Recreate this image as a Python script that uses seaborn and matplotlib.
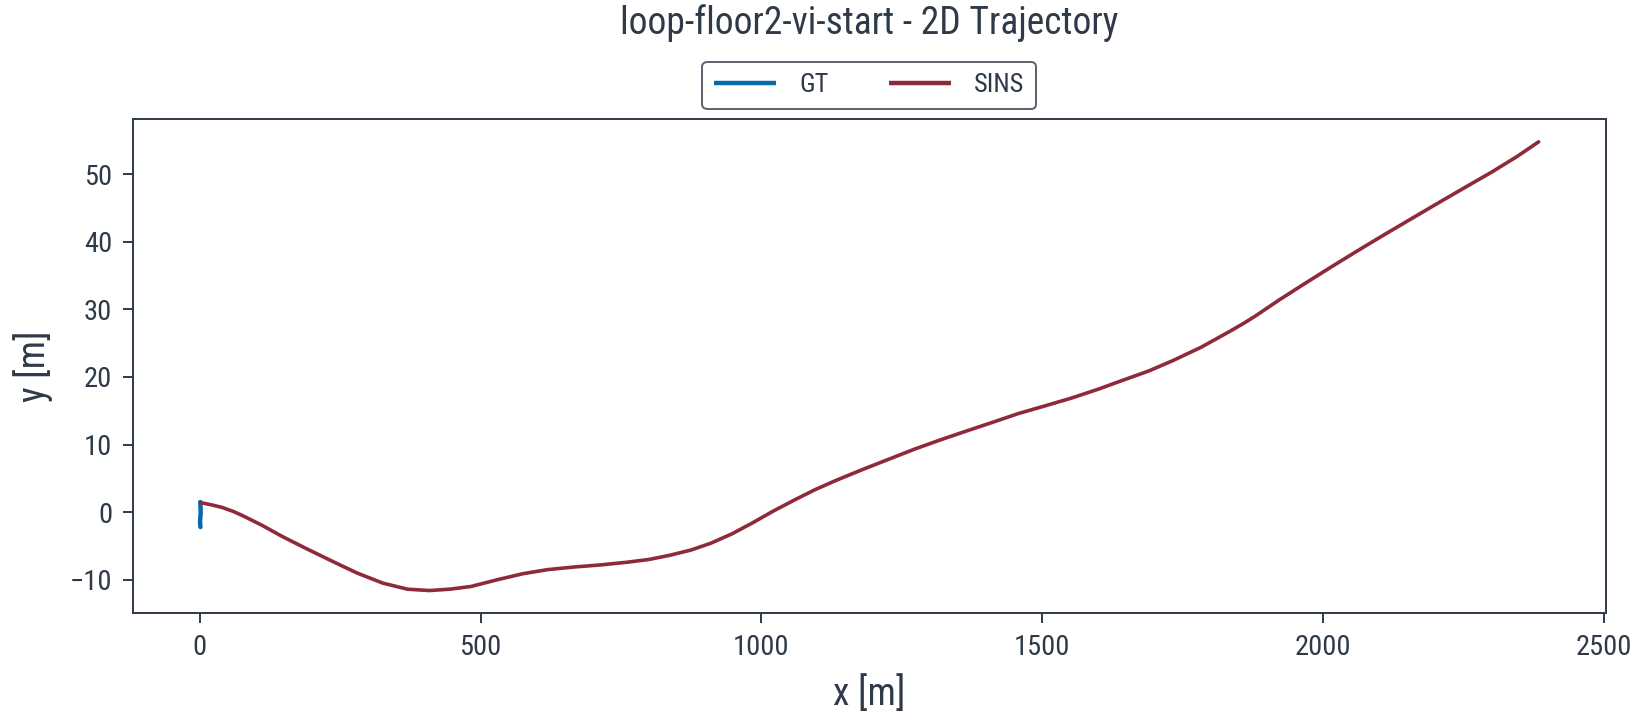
import matplotlib
matplotlib.use("Agg")
import matplotlib.pyplot as plt
import seaborn as sns
import pandas as pd

# ---- data ----
gt_x = [1.0, 1.5, 1.8, 1.2, 0.6, 1.0, 1.4]
gt_y = [1.5, 0.8, 0.0, -0.8, -1.4, -1.9, -2.2]

sins_x = [2, 20, 40, 60, 76, 110, 147, 190, 237, 280, 326, 370, 409, 445, 483, 530, 576,
          620, 669, 715, 762, 800, 836, 875, 910, 948, 984, 1020, 1059, 1095, 1133,
          1180, 1226, 1272, 1319, 1365, 1412, 1458, 1504, 1553, 1600, 1643, 1690,
          1732, 1783, 1833, 1860, 1881, 1922, 1969, 2015, 2062, 2108, 2155, 2200, 2256,
          2300, 2345, 2384]
sins_y = [1.4, 1.1, 0.7, 0.1, -0.5, -1.9, -3.6, -5.4, -7.3, -9.0, -10.5, -11.4, -11.6,
          -11.4, -11.0, -10.0, -9.1, -8.5, -8.1, -7.8, -7.4, -7.0, -6.4, -5.6, -4.6,
          -3.2, -1.6, 0.1, 1.8, 3.3, 4.7, 6.3, 7.8, 9.3, 10.7, 12.0, 13.3, 14.6,
          15.7, 16.9, 18.2, 19.5, 20.9, 22.4, 24.4, 26.7, 28.0, 29.1, 31.4, 33.9, 36.3,
          38.7, 41.0, 43.3, 45.5, 48.2, 50.3, 52.6, 54.8]

series_names = ["GT", "SINS"]
colors = ["#0868ac", "#8e2a3a"]
text_color = "#2e3a48"

df = pd.concat([
    pd.DataFrame({"x": gt_x, "y": gt_y, "src": "GT"}),
    pd.DataFrame({"x": sins_x, "y": sins_y, "src": "SINS"}),
], ignore_index=True)

sns.set_theme(style="ticks")
plt.rcParams["font.family"] = ["Roboto Condensed", "Roboto", "DejaVu Sans"]
plt.rcParams["text.color"] = text_color
plt.rcParams["axes.labelcolor"] = text_color
plt.rcParams["xtick.color"] = text_color
plt.rcParams["ytick.color"] = text_color
plt.rcParams["axes.edgecolor"] = text_color
plt.rcParams["lines.solid_capstyle"] = "round"
plt.rcParams["lines.solid_joinstyle"] = "round"

fig = plt.figure(figsize=(16.37, 7.28), dpi=100)
ax_left, ax_w = 0.0813, 0.8995
ax = fig.add_axes([ax_left, 0.158, ax_w, 0.678])

sns.lineplot(data=df, x="x", y="y", hue="src", hue_order=series_names,
             palette=colors, sort=False, estimator=None, units="src",
             linewidth=2.6, ax=ax)
ax.get_lines()[0].set_linewidth(3.2)

for s in ax.spines.values():
    s.set_linewidth(1.4)
    s.set_color(text_color)
ax.tick_params(axis="both", labelsize=20.5, width=1.4, length=7, direction="out", pad=8)
ax.set_xticks([0, 500, 1000, 1500, 2000, 2500])
ax.set_yticks([-10, 0, 10, 20, 30, 40, 50])
ax.set_xlabel("x [m]", fontsize=27, labelpad=10)
ax.set_ylabel("y [m]", fontsize=27, labelpad=12)

handles, labels = ax.get_legend_handles_labels()
ax.get_legend().remove()
leg = ax.legend(handles, labels, loc="lower center", bbox_to_anchor=(0.5, 1.0),
                borderaxespad=0.38, ncol=2, fontsize=19, frameon=True, fancybox=True,
                edgecolor=text_color, handlelength=2.35, columnspacing=2.3,
                handletextpad=0.87, borderpad=0.45)
leg.get_frame().set_linewidth(1.4)
for line in leg.get_lines():
    line.set_linewidth(3.2)
    line.set_solid_capstyle("butt")

fig.text(ax_left + ax_w / 2, 1 - 23 / 728, "loop-floor2-vi-start - 2D Trajectory",
         ha="center", va="center", fontsize=27, color=text_color)

fig.savefig("out.png", dpi=100, facecolor="white")
